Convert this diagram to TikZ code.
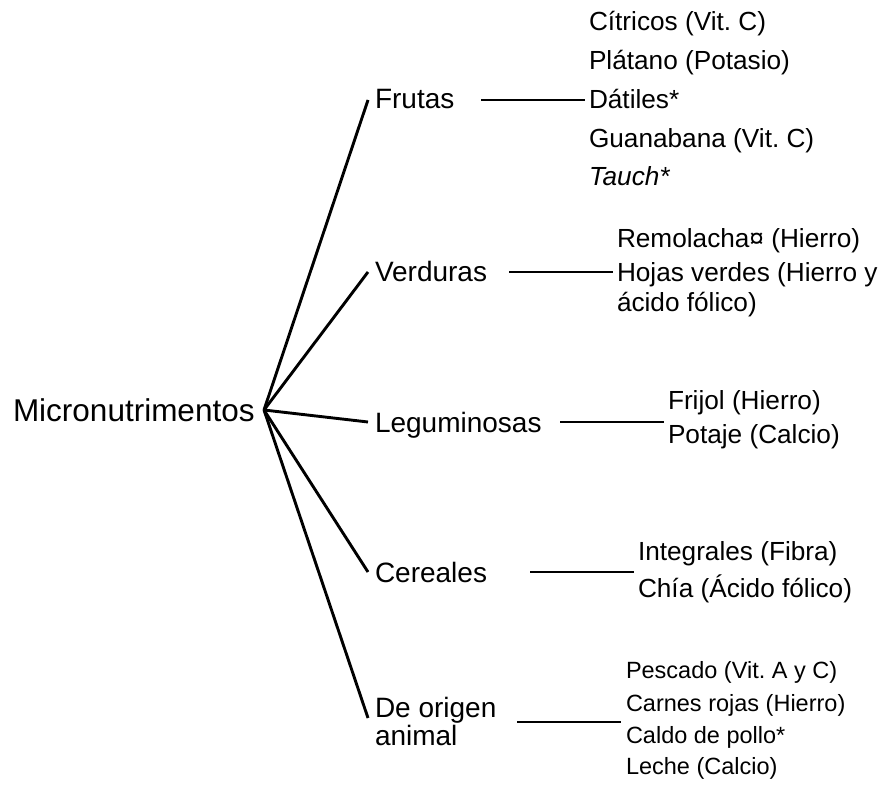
\documentclass[tikz,border=0pt]{standalone}
\usepackage{fontspec}
\setmainfont{Liberation Sans}
\usetikzlibrary{calc}
\frenchspacing
\begin{document}
\begin{tikzpicture}[x=1pt,y=-1pt,
  every node/.style={inner sep=0pt,outer sep=0pt,anchor=base west},
  rootf/.style={font=\fontsize{31.5}{36}\selectfont},
  catf/.style={font=\fontsize{28}{32}\selectfont},
  itemf/.style={font=\fontsize{26.2}{30}\selectfont},
  smallf/.style={font=\fontsize{23.5}{28}\selectfont},
  link/.style={line width=2.9pt}]
\useasboundingbox (0,0) rectangle (887,786);
% root
\node[rootf] (root) at (13,421) {Micronutrimentos};
\coordinate (hub) at (264,410);
% categories
\node[catf] (frutas) at (375,109) {Frutas};
\node[catf] (verduras) at (375,282) {Verduras};
\node[catf] (legum) at (375,432) {Leguminosas};
\node[catf] (cereales) at (375,582) {Cereales};
\node[catf] (origen) at (375,717) {De origen};
\node[catf] (animal) at (375,745) {animal};
% items
\node[itemf] (citricos) at (589,31) {Cítricos (Vit. C)};
\node[itemf] (platano) at (589,70) {Plátano (Potasio)};
\node[itemf] (datiles) at (589,109) {Dátiles*};
\node[itemf] (guanabana) at (589,148) {Guanabana (Vit. C)};
\node[itemf] (tauch) at (589,186) {\itshape Tauch*};
\node[itemf] (remolacha) at (617,248) {Remolacha¤ (Hierro)};
\node[itemf] (hojas) at (617,282) {Hojas verdes (Hierro y};
\node[itemf] (acido) at (617,312) {ácido fólico)};
\node[itemf] (frijol) at (668,410) {Frijol (Hierro)};
\node[itemf] (potaje) at (668,443) {Potaje (Calcio)};
\node[itemf] (integrales) at (638,560) {Integrales (Fibra)};
\node[itemf] (chia) at (638,597) {Chía (Ácido fólico)};
\node[smallf] (pescado) at (626,678) {Pescado (Vit. A y C)};
\node[smallf] (carnes) at (626,711) {Carnes rojas (Hierro)};
\node[smallf] (caldo) at (626,743) {Caldo de pollo*};
\node[smallf] (leche) at (626,774) {Leche (Calcio)};
% diagonal connectors
\draw[link] (hub) -- ($(frutas.base west)+(-7,-9)$);
\draw[link] (hub) -- ($(verduras.base west)+(-7,-10)$);
\draw[link] (hub) -- ($(legum.base west)+(-7,-10)$);
\draw[link] (hub) -- ($(cereales.base west)+(-7,-10)$);
\draw[link] (hub) -- ($(origen.base west)+(-7,1)$);
% horizontal connectors
\draw[link] ($(frutas.base west)+(106,-9)$) -- ($(datiles.base west)+(-4,-9)$);
\draw[link] ($(verduras.base west)+(134,-10)$) -- ($(hojas.base west)+(-4,-10)$);
\draw[link] ($(legum.base west)+(185,-10)$) -- ($(frijol.base west)+(-4,12)$);
\draw[link] ($(cereales.base west)+(155,-10)$) -- ($(integrales.base west)+(-4,12)$);
\draw[link] ($(origen.base west)+(142,5)$) -- ($(carnes.base west)+(-5,11)$);
\end{tikzpicture}
\end{document}
